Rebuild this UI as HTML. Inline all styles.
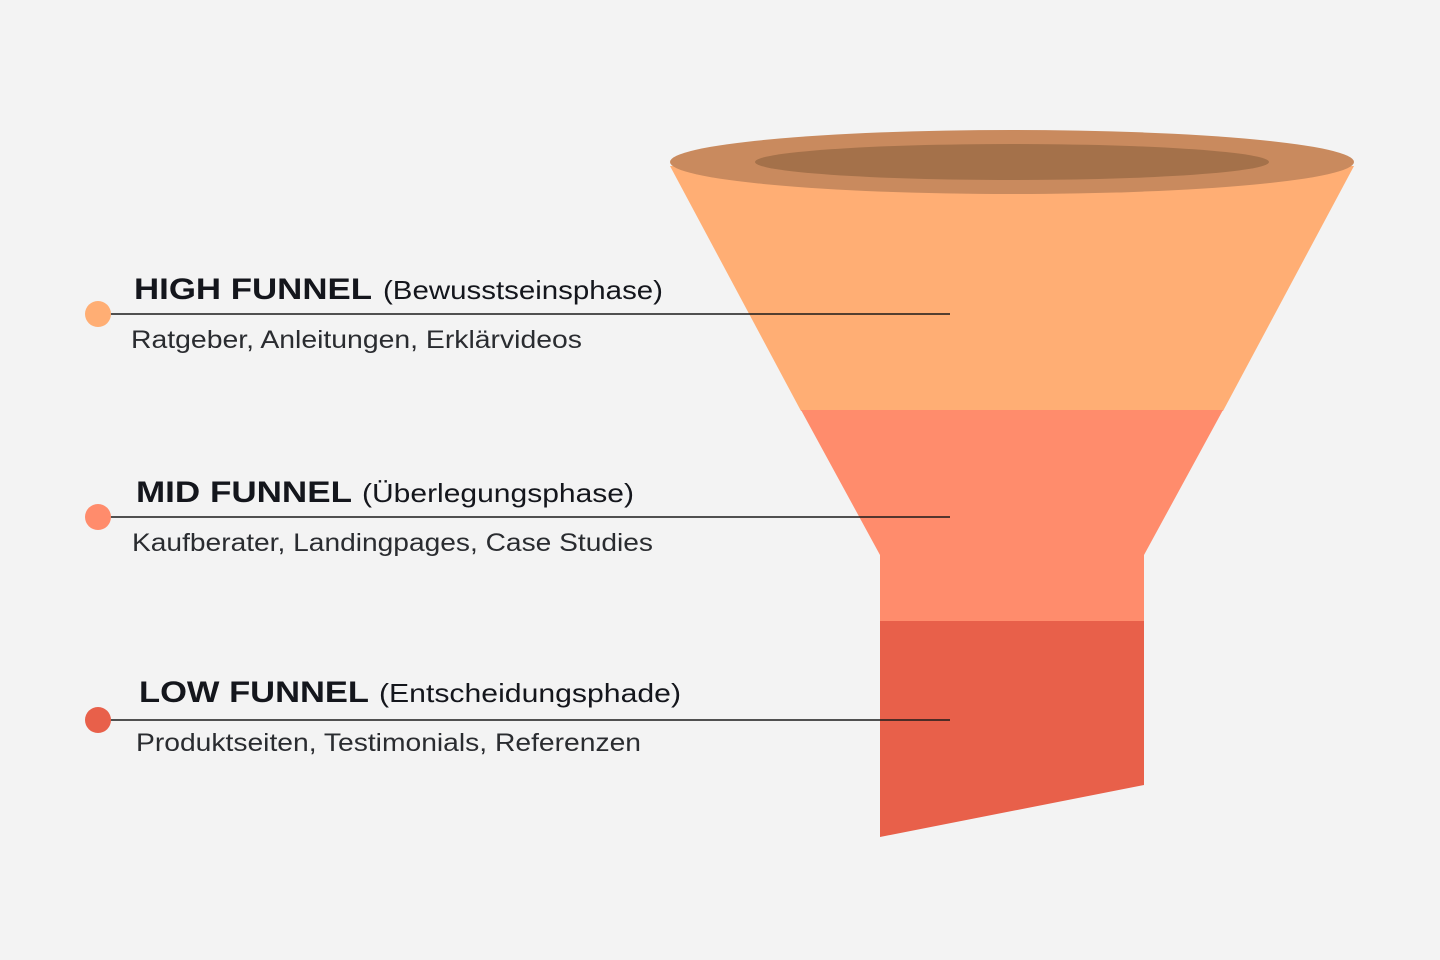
<!DOCTYPE html>
<html><head><meta charset="utf-8"><style>html,body{margin:0;padding:0;background:#f3f3f3}</style></head>
<body>
<svg width="1440" height="960" viewBox="0 0 1440 960" xmlns="http://www.w3.org/2000/svg" style="display:block">
<rect width="1440" height="960" fill="#f3f3f3"/>
<polygon points="670,166 1354,166 1223,411 801,411" fill="#ffae74"/>
<polygon points="801,410 1223,410 1144,555 1144,622 880,622 880,555" fill="#ff8c6c"/>
<polygon points="880,621 1144,621 1144,785 880,837" fill="#e8604a"/>
<ellipse cx="1012" cy="162" rx="342" ry="32" fill="#c98a5e"/>
<ellipse cx="1012" cy="162" rx="257" ry="18" fill="#a4714a"/>
<g stroke="#1a1a1a" stroke-width="1.5">
<line x1="110" y1="314" x2="950" y2="314"/>
<line x1="110" y1="517" x2="950" y2="517"/>
<line x1="110" y1="720" x2="950" y2="720"/>
</g>
<circle cx="98" cy="314" r="13" fill="#ffae74"/>
<circle cx="98" cy="517" r="13" fill="#ff8c6c"/>
<circle cx="98" cy="720" r="13" fill="#e8604a"/>
<g font-family="Liberation Sans, sans-serif" fill="#14161c">
<text x="134" y="299" font-size="30" font-weight="bold" textLength="238" lengthAdjust="spacingAndGlyphs">HIGH FUNNEL</text>
<text x="383" y="299" font-size="26" textLength="280" lengthAdjust="spacingAndGlyphs">(Bewusstseinsphase)</text>
<text x="131" y="348" font-size="25" fill="#2a2c30" textLength="451" lengthAdjust="spacingAndGlyphs">Ratgeber, Anleitungen, Erklärvideos</text>
<text x="136" y="502" font-size="30" font-weight="bold" textLength="216" lengthAdjust="spacingAndGlyphs">MID FUNNEL</text>
<text x="362" y="502" font-size="26" textLength="272" lengthAdjust="spacingAndGlyphs">(Überlegungsphase)</text>
<text x="132" y="551" font-size="25" fill="#2a2c30" textLength="521" lengthAdjust="spacingAndGlyphs">Kaufberater, Landingpages, Case Studies</text>
<text x="139" y="702" font-size="30" font-weight="bold" textLength="230" lengthAdjust="spacingAndGlyphs">LOW FUNNEL</text>
<text x="379" y="702" font-size="26" textLength="302" lengthAdjust="spacingAndGlyphs">(Entscheidungsphade)</text>
<text x="136" y="751" font-size="25" fill="#2a2c30" textLength="505" lengthAdjust="spacingAndGlyphs">Produktseiten, Testimonials, Referenzen</text>
</g>
</svg>
</body></html>
